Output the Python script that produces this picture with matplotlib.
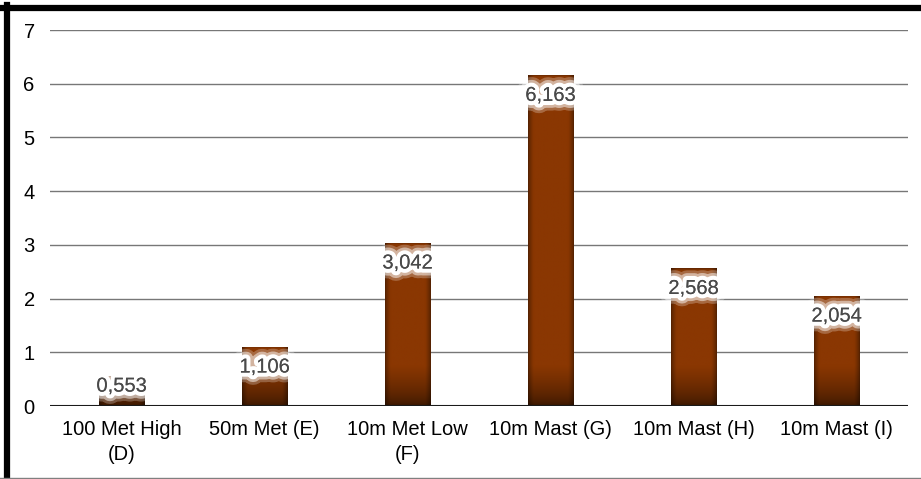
import numpy as np
import matplotlib.pyplot as plt
import matplotlib.patheffects as pe
from matplotlib.lines import Line2D

# Категории и значения
categories = ['100 Met High\n(D)', '50m Met (E)', '10m Met Low\n(F)',
              '10m Mast (G)', '10m Mast (H)', '10m Mast (I)']
values = [0.553, 1.106, 3.042, 6.163, 2.568, 2.054]
value_labels = ['0,553', '1,106', '3,042', '6,163', '2,568', '2,054']

plt.rcParams['font.family'] = ['Liberation Sans', 'DejaVu Sans']
fs = 14.5

fig = plt.figure(figsize=(9.21, 4.79), dpi=100)
ax = fig.add_axes([50 / 921, 73 / 479, 858 / 921, 376 / 479])

x = np.arange(len(values))
bars = ax.bar(x, values, width=0.315, color='none', zorder=3)

ax.set_yticks(range(8))
ax.set_xticks(x)
ax.set_xticklabels(categories, fontsize=fs, linespacing=1.4)
ax.tick_params(axis='y', labelsize=fs, length=0, pad=11)
ax.tick_params(axis='x', length=0, pad=10)
for s in ax.spines.values():
    s.set_visible(False)
ax.grid(axis='y', color='#777777', linewidth=1.0, zorder=0)
ax.axhline(0, color='#1a1a1a', linewidth=1.5, zorder=4)

# Заливка столбцов с градиентом
base = np.array([138, 55, 2]) / 255
nx, ny = 60, 300
for bar, v in zip(bars, values):
    x0, w = bar.get_x(), bar.get_width()
    xs = np.linspace(0, 1, nx)
    edge = np.minimum(xs, 1 - xs)
    hshade = 0.6 + 0.4 * np.clip(edge / 0.12, 0, 1) ** 0.7
    ys = np.linspace(0, v, ny)
    vshade = 0.38 + 0.62 * np.clip(ys / 0.75, 0, 1) ** 0.6
    top = np.clip((v - ys) / 0.04, 0, 1)
    vshade = vshade * (0.7 + 0.3 * top)
    shade = vshade[:, None] * hshade[None, :]
    img = base[None, None, :] * shade[:, :, None]
    im = ax.imshow(img, origin='lower', extent=(x0, x0 + w, 0, v),
                   aspect='auto', zorder=3, interpolation='bilinear')
    im.set_clip_path(bar)

ax.set_xlim(-0.5, len(values) - 0.5)
ax.set_ylim(0, 7)

# Подписи значений со светящимся фоном
glow = [pe.withStroke(linewidth=14, foreground='white', alpha=0.25),
        pe.withStroke(linewidth=10, foreground='white', alpha=0.5),
        pe.withStroke(linewidth=6, foreground='white', alpha=1.0),
        pe.Normal()]
for xi, v, lab in zip(x, values, value_labels):
    ax.text(xi, max(v - 0.38, 0.37), lab, ha='center', va='center',
            fontsize=fs, color='#4a4a4a', zorder=5, path_effects=glow)

# Рамка
fig.add_artist(Line2D([0, 1], [1 - 7.5 / 479] * 2, color='black',
                      linewidth=4.5, transform=fig.transFigure))
fig.add_artist(Line2D([7 / 921] * 2, [0, 1 - 5 / 479], color='black',
                      linewidth=4.5, transform=fig.transFigure))
fig.add_artist(Line2D([0, 1], [1.5 / 479] * 2, color='#808080',
                      linewidth=1, transform=fig.transFigure))

fig.savefig('out.png', dpi=100)
